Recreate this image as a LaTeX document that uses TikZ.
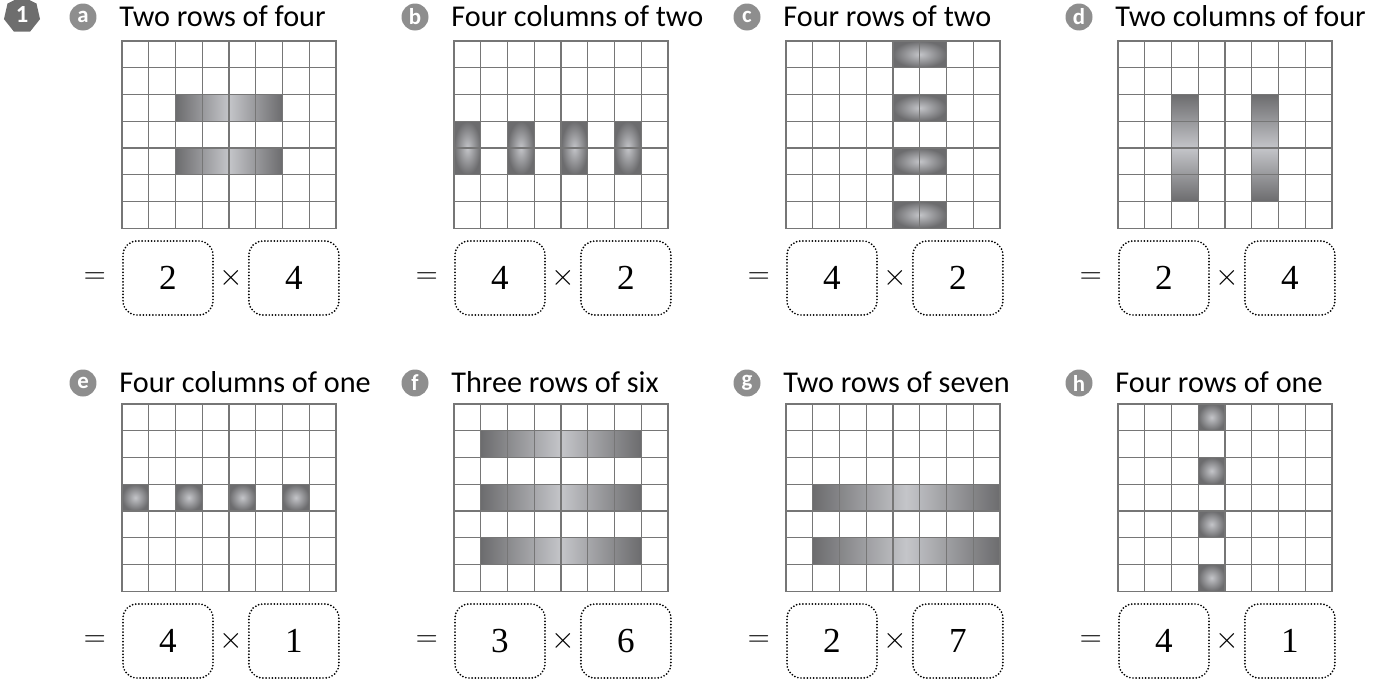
\documentclass[tikz,border=0pt]{standalone}
\usepackage{fontspec}
\usepackage{tikz}
\usetikzlibrary{shapes.geometric, positioning, calc}
\newfontfamily\sansfont{Carlito}
\newfontfamily\numfont{Liberation Serif}
\definecolor{gridgray}{HTML}{767676}
\definecolor{bardark}{HTML}{6C6C6E}
\definecolor{barlight}{HTML}{C4C5C9}
\definecolor{badgegray}{HTML}{8E8E8E}
\definecolor{qgray}{HTML}{6E6E6E}

\begin{document}
\begin{tikzpicture}[x=0.02cm, y=0.02cm,
  gridline/.style={gridgray, line width=0.75pt, line cap=rect},
  hbar/.style={left color=bardark, right color=bardark, middle color=barlight},
  vbar/.style={top color=bardark, bottom color=bardark, middle color=barlight},
  blob/.style={inner color=barlight, outer color=bardark},
  letterbadge/.style={circle, fill=badgegray, text=white, minimum size=0.54cm, inner sep=0pt,
    font=\sansfont\bfseries\fontsize{13}{13}\selectfont},
  qbadge/.style={regular polygon, regular polygon sides=7, fill=qgray, text=white,
    minimum size=0.74cm, inner sep=0pt, font=\sansfont\bfseries\fontsize{14}{14}\selectfont},
  heading/.style={anchor=base west, inner sep=0pt, font=\sansfont\fontsize{17.2}{21}\selectfont},
  answer/.style={draw, line width=1.1pt, dash pattern=on 0pt off 1.8pt, line cap=round,
    rounded corners=0.28cm, minimum width=1.8cm, minimum height=1.48cm,
    font=\numfont\fontsize{20}{24}\selectfont},
  sign/.style={inner sep=0pt, font=\fontsize{18}{22}\selectfont}]
\useasboundingbox (0,0) rectangle (1387,-680);
\node[qbadge] (q1) at (22,-15) {1};
% headings, badges and answer boxes of the eight arrays
\foreach \p/\gx/\gy/\base/\txt/\m/\n in {
    a/122/41/26/Two rows of four/2/4,
    b/454/41/26/Four columns of two/4/2,
    c/786/41/26/Four rows of two/4/2,
    d/1118/41/26/Two columns of four/2/4,
    e/122/404/392/Four columns of one/4/1,
    f/454/404/392/Three rows of six/3/6,
    g/786/404/392/Two rows of seven/2/7,
    h/1118/404/392/Four rows of one/4/1}
{
  \coordinate (g\p) at (\gx,-\gy);
  \node[heading] (title\p) at (\gx-3,-\base) {\txt};
  \node[letterbadge] (badge\p) at ($(title\p.base west)+(-36,9)$) {\p};
  \node[answer] (left\p) at (\gx+46,-\gy-237) {\m};
  \node[answer, right=0.68cm of left\p] (right\p) {\n};
  \node[sign] (times\p) at ($(left\p.east)!0.5!(right\p.west)$) {$\times$};
  \node[sign, left=0.32cm of left\p] (eq\p) {$=$};
}
% shaded cells (cell units, rows counted downwards)
\begin{scope}[shift={(ga)}, x=0.535cm, y=-0.535cm]
  \shade[hbar] (2,2) rectangle (6,3);
  \shade[hbar] (2,4) rectangle (6,5);
\end{scope}
\begin{scope}[shift={(gb)}, x=0.535cm, y=-0.535cm]
  \foreach \c in {0,2,4,6} \shade[blob] (\c,3) rectangle ++(1,2);
\end{scope}
\begin{scope}[shift={(gc)}, x=0.535cm, y=-0.535cm]
  \foreach \r in {0,2,4,6} \shade[blob] (4,\r) rectangle ++(2,1);
\end{scope}
\begin{scope}[shift={(gd)}, x=0.535cm, y=-0.535cm]
  \foreach \c in {2,5} \shade[vbar] (\c,2) rectangle ++(1,4);
\end{scope}
\begin{scope}[shift={(ge)}, x=0.535cm, y=-0.535cm]
  \foreach \c in {0,2,4,6} \shade[blob] (\c,3) rectangle ++(1,1);
\end{scope}
\begin{scope}[shift={(gf)}, x=0.535cm, y=-0.535cm]
  \foreach \r in {1,3,5} \shade[hbar] (1,\r) rectangle ++(6,1);
\end{scope}
\begin{scope}[shift={(gg)}, x=0.535cm, y=-0.535cm]
  \foreach \r in {3,5} \shade[hbar] (1,\r) rectangle ++(7,1);
\end{scope}
\begin{scope}[shift={(gh)}, x=0.535cm, y=-0.535cm]
  \foreach \r in {0,2,4,6} \shade[blob] (3,\r) rectangle ++(1,1);
\end{scope}
% the 8 x 7 grids
\foreach \p in {a,...,h}
{
  \begin{scope}[shift={(g\p)}, x=0.535cm, y=-0.535cm]
    \foreach \i in {0,...,8} \draw[gridline] (\i,0) -- (\i,7);
    \foreach \j in {0,...,7} \draw[gridline] (0,\j) -- (8,\j);
  \end{scope}
}
\end{tikzpicture}
\end{document}
